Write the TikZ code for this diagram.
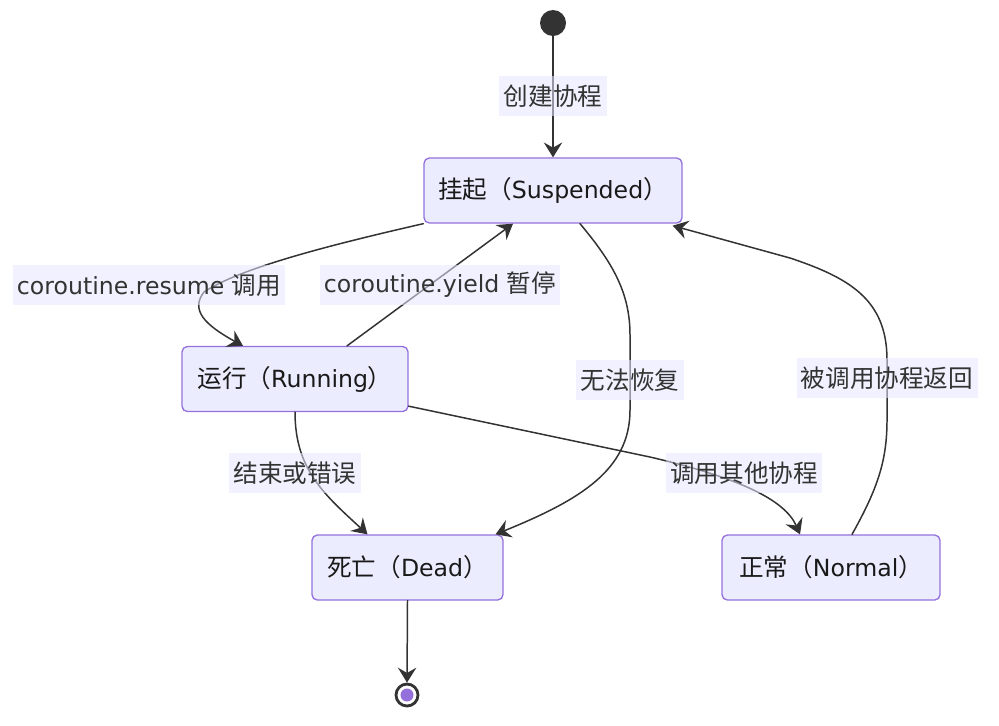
\documentclass[tikz,border=0pt]{standalone}
\usepackage{fontspec}
\setmainfont{DejaVu Sans}[Scale=0.96]
\newfontfamily\cjk{Noto Sans CJK SC}
\usepackage{xcolor}
\usepackage{tikz}
\usetikzlibrary{positioning,calc,arrows.meta}

\definecolor{stateFill}{HTML}{ECECFF}
\definecolor{stateLine}{HTML}{9370DB}
\definecolor{edgeCol}{HTML}{333333}
\definecolor{lblFill}{HTML}{E6E6FF}

\begin{document}
\begin{tikzpicture}[
				x=0.02cm,y=-0.02cm,
				>={Stealth[length=8.5pt,width=10.5pt,inset=3pt]},
				line cap=round,line join=round,
				font=\fontsize{14}{17}\selectfont,
				state/.style={draw=stateLine, fill=stateFill, line width=0.75pt,
					rounded corners=3pt, minimum height=1.3cm, inner sep=0pt, text=black!90},
				trans/.style={->, draw=edgeCol, line width=0.85pt},
				lbl/.style={fill=lblFill, fill opacity=0.55, text opacity=1, text=edgeCol,
					inner xsep=2.5pt, inner ysep=0pt, minimum height=0.8cm}
				]
				%----- frame
				\useasboundingbox (0,0) rectangle (999,725);
				
				%----- states
				\node[state, minimum width=5.16cm] (susNode)  at (553,190.5) {{\cjk 挂起（}Suspended{\cjk ）}};
				\node[state, minimum width=4.52cm] (runNode)  at (295,379)   {{\cjk 运行（}Running{\cjk ）}};
				\node[state, minimum width=3.82cm] (deadNode) at (407.5,567.5) {{\cjk 死亡（}Dead{\cjk ）}};
				\node[state, minimum width=4.36cm] (normNode) at (831,567.5) {{\cjk 正常（}Normal{\cjk ）}};
				
				%----- start / end dots
				\node[circle, fill=edgeCol, minimum size=0.52cm, inner sep=0pt] (startDot) at (553,23) {};
				\node[circle, draw=edgeCol, line width=1.6pt, fill=white, minimum size=0.44cm, inner sep=0pt] (endDot) at (407,695) {};
				\fill[stateLine] (endDot.center) circle (6.5);
				
				%----- transitions
				\draw[trans] (startDot) -- (susNode.north);
				
				% resume
				\draw[trans] (susNode.south west)
				.. controls (330,245) and (240,268) .. (204,292)
				.. controls (190,310) and (205,325) .. ($(runNode.north)+(-52,0)$);
				
				% yield
				\draw[trans] ($(runNode.north)+(52,0)$) -- ($(susNode.south)+(-40,0)$);
				
				% no resume
				\draw[trans] ($(susNode.south)+(27,0)$)
				.. controls (612,262) and (630,292) .. (630,335) -- (630,410)
				.. controls (630,470) and (580,500) .. ($(deadNode.north)+(88,0)$);
				
				% end or error
				\draw[trans] (runNode.south)
				.. controls (295,470) and (325,495) .. ($(deadNode.north)+(-40,0)$);
				
				% call other
				\draw[trans] ($(runNode.south east)+(0,-6)$) -- (650,457)
				.. controls (740,478) and (785,500) .. ($(normNode.north)+(-31,0)$);
				
				% called returns
				\draw[trans] ($(normNode.north)+(21,0)$)
				.. controls (878,488) and (887,460) .. (887,420) -- (887,360)
				.. controls (887,300) and (850,278) .. (790,258)
				-- ($(susNode.south east)+(-10,2)$);
				
				\draw[trans] (deadNode.south) -- (endDot.north);
				
				%----- labels
				\node[lbl] (createLbl) at (553,96)  {\cjk 创建协程};
				\node[lbl] (resumeLbl) at (149,285) {coroutine.resume {\cjk 调用}};
				\node[lbl] (yieldLbl)  at (440,285) {coroutine.yield {\cjk 暂停}};
				\node[lbl] (deadLbl)   at (630,380) {\cjk 无法恢复};
				\node[lbl] (backLbl)   at (887,378) {\cjk 被调用协程返回};
				\node[lbl] (endLbl)    at (295,473) {\cjk 结束或错误};
				\node[lbl] (callLbl)   at (744,473) {\cjk 调用其他协程};
				
			\end{tikzpicture}
\end{document}
